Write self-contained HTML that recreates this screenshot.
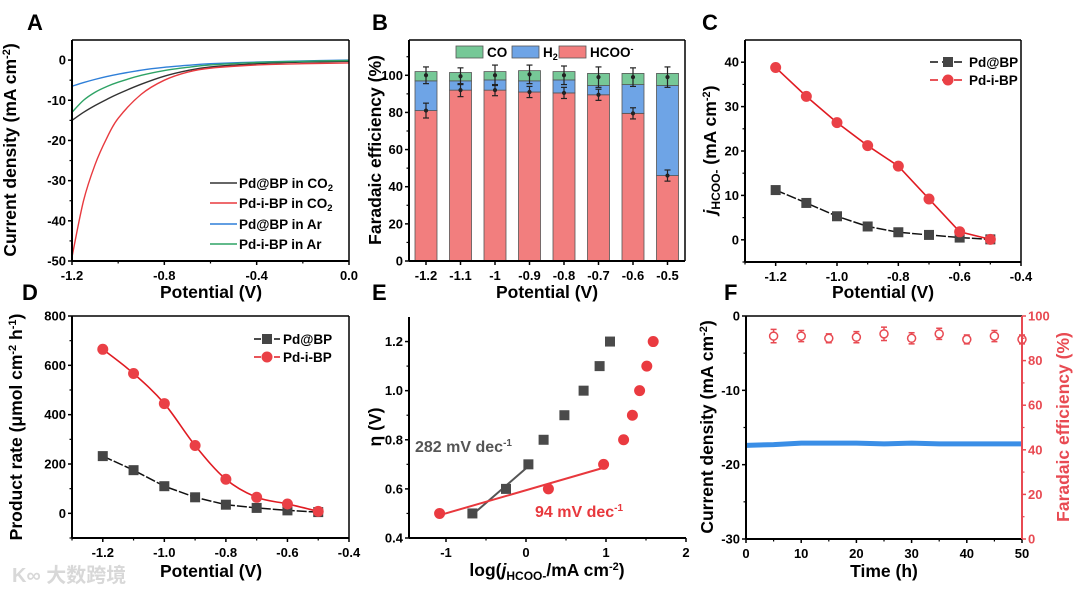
<!DOCTYPE html>
<html><head><meta charset="utf-8"><style>
html,body{margin:0;padding:0;background:#fff;}
svg{display:block;font-family:"Liberation Sans",Arial,sans-serif;font-weight:bold;}
</style></head><body>
<svg id="fig" width="1080" height="591" viewBox="0 0 1080 591" xmlns="http://www.w3.org/2000/svg"></svg>
<script>
// ---------- DATA ----------
// Panel A
const aPotentials = [-1.2,-1.15,-1.1,-1.05,-1.0,-0.9,-0.8,-0.7,-0.6,-0.4,-0.2,0];
const aPdBPCO2 = [-15,-13,-11.3,-9.8,-8.4,-6.0,-4.0,-2.6,-1.7,-0.9,-0.5,-0.3];
const aPdiBPCO2 = [-49,-35,-26,-19.5,-14.5,-8.5,-5,-3,-2,-1.2,-0.9,-0.7];
const aPdBPAr = [-6.5,-5.6,-4.8,-4.1,-3.5,-2.5,-1.8,-1.3,-0.9,-0.5,-0.2,0];
const aPdiBPAr = [-13,-10,-8,-6.6,-5.5,-3.8,-2.6,-1.8,-1.2,-0.6,-0.3,-0.1];
// Panel B
const bCategories = ["-1.2","-1.1","-1","-0.9","-0.8","-0.7","-0.6","-0.5"];
const bHCOO = [81,92,92,91,90.5,89.5,79.5,46];
const bH2 = [16,5,5.5,6,7,5,15.5,48.5];
const bCO = [5,4.5,4.5,5.5,4.5,6.5,6,6.5];
const bHCOOErr = [4,3.5,3,3,3,3,3,3];
const bTotalErr = [4.5,4.5,5.5,5,5,5.5,5,5.5];
// Panel C
const cPotentials = [-1.2,-1.1,-1.0,-0.9,-0.8,-0.7,-0.6,-0.5];
const cPdBP = [11.2,8.3,5.3,3.0,1.7,1.1,0.5,0.1];
const cPdiBP = [38.8,32.3,26.4,21.2,16.6,9.2,1.8,0.1];
// Panel D
const dPotentials = [-1.2,-1.1,-1.0,-0.9,-0.8,-0.7,-0.6,-0.5];
const dPdBP = [232,175,110,65,35,22,12,5];
const dPdiBP = [665,567,445,275,138,65,38,8];
// Panel E
const eEta = [0.5,0.6,0.7,0.8,0.9,1.0,1.1,1.2];
const eLogPdBP = [-0.67,-0.25,0.03,0.22,0.48,0.72,0.92,1.05];
const eLogPdiBP = [-1.08,0.28,0.97,1.22,1.33,1.42,1.51,1.59];
// Panel F
const fTimes = [0,5,10,15,20,25,30,35,40,45,50];
const fCurrent = [-17.4,-17.3,-17.1,-17.1,-17.1,-17.2,-17.1,-17.2,-17.2,-17.2,-17.2];
const fFETimes = [5,10,15,20,25,30,35,40,45,50];
const fFE = [91,91,90,90.5,92,90,92,89.5,91,89.5];
const fFEErr = [3,2.5,2,2.5,3,2.5,2.5,2,2.5,2];

// ---------- HELPERS ----------
const NS = "http://www.w3.org/2000/svg";
const svg = document.getElementById('fig');
function mk(tag, attrs, parent){
  const e = document.createElementNS(NS, tag);
  for (const k in attrs) e.setAttribute(k, attrs[k]);
  (parent||svg).appendChild(e);
  return e;
}
function lin(d0,d1,r0,r1){ return v => r0 + (v-d0)/(d1-d0)*(r1-r0); }
function smoothPath(pts){
  let d = "M"+pts[0][0]+","+pts[0][1];
  for (let i=0;i<pts.length-1;i++){
    const p0=pts[Math.max(i-1,0)], p1=pts[i], p2=pts[i+1], p3=pts[Math.min(i+2,pts.length-1)];
    const c1x=p1[0]+(p2[0]-p0[0])/6, c1y=p1[1]+(p2[1]-p0[1])/6;
    const c2x=p2[0]-(p3[0]-p1[0])/6, c2y=p2[1]-(p3[1]-p1[1])/6;
    d += " C"+c1x+","+c1y+" "+c2x+","+c2y+" "+p2[0]+","+p2[1];
  }
  return d;
}
function frame(x0,y0,x1,y1,sides){
  const g = mk('g',{});
  
  
  if (sides.includes('b')) mk('line',{x1:x0,y1:y1,x2:x1,y2:y1,stroke:'#000','stroke-width':2},g);
  if (sides.includes('l')) mk('line',{x1:x0,y1:y0,x2:x0,y2:y1,stroke:'#000','stroke-width':2},g);
  if (sides.includes('t')) mk('line',{x1:x0,y1:y0,x2:x1,y2:y0,stroke:'#000','stroke-width':1.5},g);
  if (sides.includes('r')) mk('line',{x1:x1,y1:y0,x2:x1,y2:y1,stroke:'#000','stroke-width':1.5},g);
  return g;
}
function xTicks(sx, y, vals, labels, minors, color){
  vals.forEach((v,i)=>{
    const t = mk('line',{x1:sx(v),y1:y,x2:sx(v),y2:y+4,stroke:color||'#000','stroke-width':1.5});
    
    
    const l = mk('text',{x:sx(v),y:y+19,'text-anchor':'middle','font-size':13,fill:color||'#000'});
    l.textContent = labels[i];
    
    
  });
  (minors||[]).forEach(v=>{
    const t = mk('line',{x1:sx(v),y1:y,x2:sx(v),y2:y+2.5,stroke:color||'#000','stroke-width':1.2});
    
    
  });
}
function yTicks(sy, x, vals, labels, minors, color, right){
  const dir = right ? 1 : -1;
  vals.forEach((v,i)=>{
    const t = mk('line',{x1:x,y1:sy(v),x2:x+dir*4,y2:sy(v),stroke:color||'#000','stroke-width':1.5});
    
    
    const l = mk('text',{x:x+dir*6,y:sy(v)+4.5,'text-anchor':right?'start':'end','font-size':13,fill:color||'#000'});
    l.textContent = labels[i];
    
    
  });
  (minors||[]).forEach(v=>{
    const t = mk('line',{x1:x,y1:sy(v),x2:x+dir*2.5,y2:sy(v),stroke:color||'#000','stroke-width':1.2});
    
    
  });
}
function titleX(x,y,html){
  const t = mk('text',{x:x,y:y,'text-anchor':'middle','font-size':17.5});
  t.innerHTML = html;
  
  
  return t;
}
function titleY(x,y,html,color){
  const t = mk('text',{x:0,y:0,'text-anchor':'middle','font-size':17.5,fill:color||'#000',transform:'translate('+x+','+y+') rotate(-90)'});
  t.innerHTML = html;
  
  
  return t;
}
function panelLetter(x,y,s){
  const t = mk('text',{x:x,y:y,'font-size':22});
  t.textContent = s;
  
  
}
function sq(x,y,fill){
  const r = mk('rect',{x:x-5,y:y-5,width:10,height:10,fill:fill});
  
  
}
function dot(x,y,fill){
  const c = mk('circle',{cx:x,cy:y,r:5.5,fill:fill});
  
  
}

// ---------- PANEL A ----------
(function(){
  const x0=72,x1=349,y0=40,y1=261;
  const sx=lin(-1.2,0,x0,x1), sy=lin(5,-50,y0,y1);
  panelLetter(27,30,'A');
  const series=[[aPdBPCO2,'#333'],[aPdiBPCO2,'#e83a3f'],[aPdBPAr,'#2f7fd8'],[aPdiBPAr,'#2ea365']];
  series.forEach(s=>{
    const p = mk('path',{d:smoothPath(aPotentials.map((v,i)=>[sx(v),sy(s[0][i])])),fill:'none',stroke:s[1],'stroke-width':1.4});
    
    
  });
  frame(x0,y0,x1,y1,'bltr');
  xTicks(sx,y1,[-1.2,-0.8,-0.4,0],['-1.2','-0.8','-0.4','0.0'],[-1.0,-0.6,-0.2]);
  yTicks(sy,x0,[0,-10,-20,-30,-40,-50],['0','-10','-20','-30','-40','-50'],[-5,-15,-25,-35,-45]);
  titleX(211,298,'Potential (V)');
  titleY(16,150,'Current density (mA cm<tspan dy="-6" font-size="11">-2</tspan><tspan dy="6">)</tspan>');
  const leg=[['#333','Pd@BP in CO','2',183],['#e83a3f','Pd-i-BP in CO','2',203],['#2f7fd8','Pd@BP in Ar','',224],['#2ea365','Pd-i-BP in Ar','',244]];
  leg.forEach(l=>{
    const g = mk('g',{});
    
    
    mk('line',{x1:210,y1:l[3],x2:237,y2:l[3],stroke:l[0],'stroke-width':1.5},g);
    const t = mk('text',{x:239,y:l[3]+5,'font-size':13.5},g);
    t.innerHTML = l[1] + (l[2]?'<tspan dy="3" font-size="9.5">'+l[2]+'</tspan>':'');
  });
})();

// ---------- PANEL B ----------
(function(){
  const x0=409,x1=685,y0=40,y1=261;
  const sy=lin(0,119,y1,y0);
  const cx = i => 426 + i*34.5;
  const bw = 22;
  panelLetter(372,30,'B');
  bCategories.forEach((c,i)=>{
    const h1 = mk('rect',{x:cx(i)-bw/2,y:sy(bHCOO[i]),width:bw,height:sy(0)-sy(bHCOO[i]),fill:'#f27e7e',stroke:'#555','stroke-width':0.8});
    
    
    const t2 = bHCOO[i]+bH2[i];
    const h2 = mk('rect',{x:cx(i)-bw/2,y:sy(t2),width:bw,height:sy(bHCOO[i])-sy(t2),fill:'#6ea4e6',stroke:'#555','stroke-width':0.8});
    
    
    const t3 = t2+bCO[i];
    const h3 = mk('rect',{x:cx(i)-bw/2,y:sy(t3),width:bw,height:sy(t2)-sy(t3),fill:'#76c897',stroke:'#555','stroke-width':0.8});
    
    
    [[bHCOO[i],bHCOOErr[i]],[t3-2,bTotalErr[i]]].forEach(e=>{
      const g = mk('g',{stroke:'#222','stroke-width':1.2});
      
      
      mk('line',{x1:cx(i),y1:sy(e[0]-e[1]),x2:cx(i),y2:sy(e[0]+e[1])},g);
      mk('line',{x1:cx(i)-3,y1:sy(e[0]-e[1]),x2:cx(i)+3,y2:sy(e[0]-e[1])},g);
      mk('line',{x1:cx(i)-3,y1:sy(e[0]+e[1]),x2:cx(i)+3,y2:sy(e[0]+e[1])},g);
      mk('circle',{cx:cx(i),cy:sy(e[0]),r:1.5,fill:'#222'},g);
    });
  });
  frame(x0,y0,x1,y1,'bltr');
  bCategories.forEach((c,i)=>{
    const t = mk('line',{x1:cx(i),y1:y1,x2:cx(i),y2:y1+4,stroke:'#000','stroke-width':1.5});
    
    
    const l = mk('text',{x:cx(i),y:y1+19,'text-anchor':'middle','font-size':13});
    l.textContent = c;
    
    
  });
  yTicks(sy,x0,[0,20,40,60,80,100],['0','20','40','60','80','100'],[10,30,50,70,90,110]);
  titleX(547,298,'Potential (V)');
  titleY(381,150,'Faradaic efficiency (%)');
  const leg=[[456,'#76c897','CO'],[512,'#6ea4e6','H<tspan dy="3" font-size="9">2</tspan>'],[559,'#f27e7e','HCOO<tspan dy="-5" font-size="9">-</tspan>']];
  leg.forEach(l=>{
    const g = mk('g',{});
    
    
    mk('rect',{x:l[0],y:46,width:27,height:12,fill:l[1],stroke:'#555','stroke-width':0.8},g);
    const t = mk('text',{x:l[0]+31,y:57,'font-size':13.5},g);
    t.innerHTML = l[2];
  });
})();

// ---------- PANEL C ----------
(function(){
  const x0=745,x1=1021,y0=40,y1=262;
  const sx=lin(-1.3,-0.4,x0,x1), sy=lin(45,-5,y0,y1);
  panelLetter(702,30,'C');
  const lb = mk('polyline',{points:cPotentials.map((v,i)=>sx(v)+','+sy(cPdBP[i])).join(' '),fill:'none',stroke:'#111','stroke-width':1.5,'stroke-dasharray':'10,2'});
  
  
  const lr = mk('polyline',{points:cPotentials.map((v,i)=>sx(v)+','+sy(cPdiBP[i])).join(' '),fill:'none',stroke:'#e01b22','stroke-width':1.6});
  
  
  cPotentials.forEach((v,i)=>sq(sx(v),sy(cPdBP[i]),'#454545'));
  cPotentials.forEach((v,i)=>dot(sx(v),sy(cPdiBP[i]),'#ea4046'));
  frame(x0,y0,x1,y1,'bltr');
  xTicks(sx,y1,[-1.2,-1.0,-0.8,-0.6,-0.4],['-1.2','-1.0','-0.8','-0.6','-0.4'],[-1.3,-1.1,-0.9,-0.7,-0.5]);
  yTicks(sy,x0,[0,10,20,30,40],['0','10','20','30','40'],[-5,5,15,25,35]);
  titleX(883,298,'Potential (V)');
  titleY(716,150,'<tspan font-style="italic">j</tspan><tspan dy="4" font-size="12">HCOO-</tspan><tspan dy="-4"> (mA cm</tspan><tspan dy="-6" font-size="11">-2</tspan><tspan dy="6">)</tspan>');
  [[62,'#111','#454545','Pd@BP',0],[80,'#e01b22','#ea4046','Pd-i-BP',1]].forEach(l=>{
    const g = mk('g',{});
    
    
    mk('line',{x1:930,y1:l[0],x2:966,y2:l[0],stroke:l[1],'stroke-width':1.5,'stroke-dasharray':'8,4'},g);
    if(l[4]) mk('circle',{cx:948,cy:l[0],r:5.5,fill:l[2]},g); else mk('rect',{x:943,y:l[0]-5,width:10,height:10,fill:l[2]},g);
    const t = mk('text',{x:969,y:l[0]+5,'font-size':13.5},g);
    t.textContent = l[3];
  });
})();

// ---------- PANEL D ----------
(function(){
  const x0=72,x1=349,y0=316,y1=538;
  const sx=lin(-1.3,-0.4,x0,x1), sy=lin(800,-100,y0,y1);
  panelLetter(22,300,'D');
  const lb = mk('polyline',{points:dPotentials.map((v,i)=>sx(v)+','+sy(dPdBP[i])).join(' '),fill:'none',stroke:'#111','stroke-width':1.5,'stroke-dasharray':'10,2'});
  
  
  const lr = mk('path',{d:smoothPath(dPotentials.map((v,i)=>[sx(v),sy(dPdiBP[i])])),fill:'none',stroke:'#e01b22','stroke-width':1.6});
  
  
  dPotentials.forEach((v,i)=>sq(sx(v),sy(dPdBP[i]),'#454545'));
  dPotentials.forEach((v,i)=>dot(sx(v),sy(dPdiBP[i]),'#ea4046'));
  frame(x0,y0,x1,y1,'bltr');
  xTicks(sx,y1,[-1.2,-1.0,-0.8,-0.6,-0.4],['-1.2','-1.0','-0.8','-0.6','-0.4'],[-1.3,-1.1,-0.9,-0.7,-0.5]);
  yTicks(sy,x0,[0,200,400,600,800],['0','200','400','600','800'],[-100,100,300,500,700]);
  titleX(211,577,'Potential (V)');
  titleY(22,427,'Product rate (μmol cm<tspan dy="-6" font-size="11">-2</tspan><tspan dy="6"> h</tspan><tspan dy="-6" font-size="11">-1</tspan><tspan dy="6">)</tspan>');
  [[339,'#111','#454545','Pd@BP',0],[357,'#e01b22','#ea4046','Pd-i-BP',1]].forEach(l=>{
    const g = mk('g',{});
    
    
    mk('line',{x1:254,y1:l[0],x2:280,y2:l[0],stroke:l[1],'stroke-width':1.5,'stroke-dasharray':'7,3'},g);
    if(l[4]) mk('circle',{cx:267,cy:l[0],r:5.5,fill:l[2]},g); else mk('rect',{x:262,y:l[0]-5,width:10,height:10,fill:l[2]},g);
    const t = mk('text',{x:283,y:l[0]+5,'font-size':13.5},g);
    t.textContent = l[3];
  });
  const w = mk('text',{x:12,y:582,'font-size':20,fill:'#d8d8d8','font-family':'"Liberation Sans","Noto Sans CJK SC",sans-serif'});
  w.textContent = 'K∞ 大数跨境';
  
  
})();

// ---------- PANEL E ----------
(function(){
  const x0=409,x1=686,y0=317,y1=538;
  const sx=lin(-1.4625,2,x0,x1), sy=lin(1.3,0.4,y0,y1);
  panelLetter(372,300,'E');
  function fit(xs,ys){
    const n=xs.length, mx=xs.reduce((a,b)=>a+b)/n, my=ys.reduce((a,b)=>a+b)/n;
    let sxy=0,sxx=0; for(let i=0;i<n;i++){sxy+=(xs[i]-mx)*(ys[i]-my);sxx+=(xs[i]-mx)**2;}
    const m=sxy/sxx; return [m,my-m*mx];
  }
  const fb = fit(eLogPdBP.slice(0,3),eEta.slice(0,3));
  const fr = fit(eLogPdiBP.slice(0,3),eEta.slice(0,3));
  const lb = mk('line',{x1:sx(eLogPdBP[0]),y1:sy(fb[0]*eLogPdBP[0]+fb[1]),x2:sx(eLogPdBP[2]),y2:sy(fb[0]*eLogPdBP[2]+fb[1]),stroke:'#555','stroke-width':2});
  
  
  const lr = mk('line',{x1:sx(eLogPdiBP[0]),y1:sy(fr[0]*eLogPdiBP[0]+fr[1]),x2:sx(eLogPdiBP[2]),y2:sy(fr[0]*eLogPdiBP[2]+fr[1]),stroke:'#e8383d','stroke-width':2});
  
  
  eEta.forEach((v,i)=>sq(sx(eLogPdBP[i]),sy(v),'#4a4a4a'));
  eEta.forEach((v,i)=>dot(sx(eLogPdiBP[i]),sy(v),'#ea3a40'));
  frame(x0,y0,x1,y1,'bl');
  xTicks(sx,y1,[-1,0,1,2],['-1','0','1','2'],[-0.5,0.5,1.5]);
  yTicks(sy,x0,[0.4,0.6,0.8,1.0,1.2],['0.4','0.6','0.8','1.0','1.2'],[0.5,0.7,0.9,1.1]);
  titleX(547,576,'log(<tspan font-style="italic">j</tspan><tspan dy="4" font-size="12">HCOO-</tspan><tspan dy="-4">/mA cm</tspan><tspan dy="-6" font-size="11">-2</tspan><tspan dy="6">)</tspan>');
  titleY(381,427,'η (V)');
  const t1 = mk('text',{x:415,y:452,'font-size':16,fill:'#555'});
  t1.innerHTML = '282 mV dec<tspan dy="-6" font-size="10">-1</tspan>';
  
  
  const t2 = mk('text',{x:535,y:517,'font-size':16,fill:'#e8383d'});
  t2.innerHTML = '94 mV dec<tspan dy="-6" font-size="10">-1</tspan>';
  
  
})();

// ---------- PANEL F ----------
(function(){
  const x0=746,x1=1022,y0=316,y1=539;
  const sx=lin(0,50,x0,x1), sy=lin(0,-30,y0,y1), sy2=lin(100,0,y0,y1);
  panelLetter(724,300,'F');
  const cl = mk('polyline',{points:fTimes.map((t,i)=>sx(t)+','+sy(fCurrent[i])).join(' '),fill:'none',stroke:'#3a8ee6','stroke-width':5});
  
  
  fFETimes.forEach((t,i)=>{
    const g = mk('g',{stroke:'#e84a52','stroke-width':1.5,fill:'none'});
    
    
    const x=sx(t), y=sy2(fFE[i]), e=fFEErr[i];
    mk('line',{x1:x,y1:sy2(fFE[i]+e),x2:x,y2:sy2(fFE[i]-e)},g);
    mk('line',{x1:x-3,y1:sy2(fFE[i]+e),x2:x+3,y2:sy2(fFE[i]+e)},g);
    mk('line',{x1:x-3,y1:sy2(fFE[i]-e),x2:x+3,y2:sy2(fFE[i]-e)},g);
    mk('circle',{cx:x,cy:y,r:4,fill:'#fff'},g);
  });
  frame(x0,y0,x1,y1,'blt');
  const rl = mk('line',{x1:x1,y1:y0,x2:x1,y2:y1,stroke:'#e84a52','stroke-width':2});
  
  
  xTicks(sx,y1,[0,10,20,30,40,50],['0','10','20','30','40','50'],[5,15,25,35,45]);
  yTicks(sy,x0,[0,-10,-20,-30],['0','-10','-20','-30'],[-5,-15,-25]);
  yTicks(sy2,x1,[0,20,40,60,80,100],['0','20','40','60','80','100'],[10,30,50,70,90],'#e84a52',true);
  titleX(884,577,'Time (h)');
  titleY(713,427,'Current density (mA cm<tspan dy="-6" font-size="11">-2</tspan><tspan dy="6">)</tspan>');
  titleY(1069,427,'Faradaic efficiency (%)','#e84a52');
})();
</script>
</body></html>
